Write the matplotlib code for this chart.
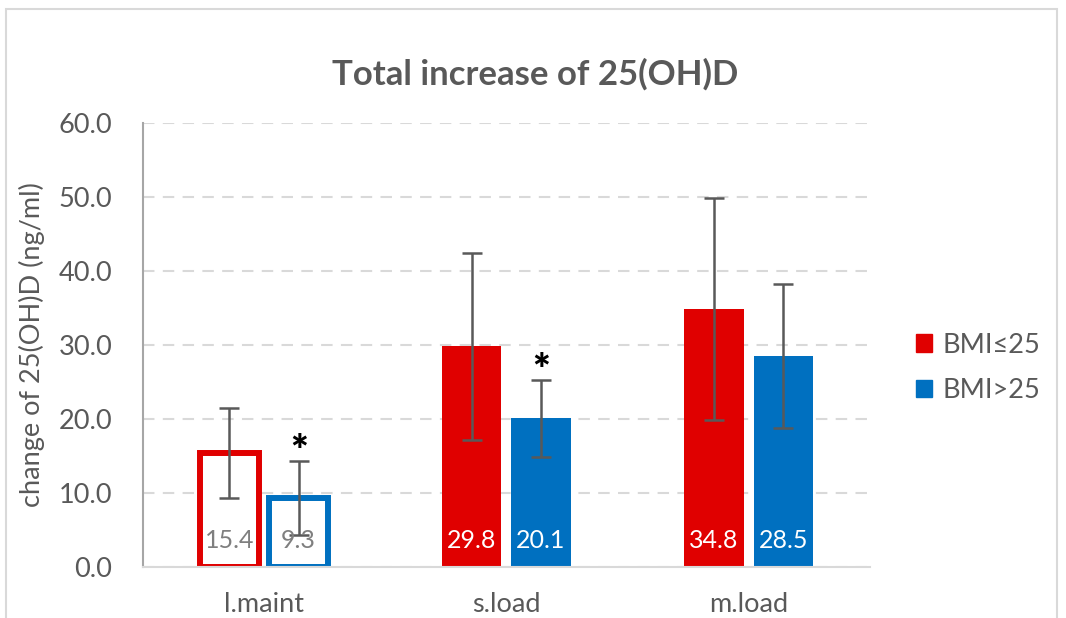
import matplotlib.pyplot as plt
import numpy as np
from matplotlib.patches import Rectangle

groups = ["l.maint", "s.load", "m.load"]
series = ["BMI≤25", "BMI>25"]
low_bmi = [15.4, 29.8, 34.8]
high_bmi = [9.3, 20.1, 28.5]
low_err = [6.1, 12.6, 15.0]
high_err = [5.0, 5.2, 9.7]
significant = [True, True, False]  # asterisk over the BMI>25 bar
hollow = [True, False, False]      # l.maint bars drawn as outlines

RED = "#e00000"
BLUE = "#0070c0"
GRAY = "#595959"
FS = 19.5

plt.rcParams["font.family"] = ["Lato", "DejaVu Sans"]

fig = plt.figure(figsize=(10.66, 6.18), dpi=100)
ax = fig.add_axes([0.134, 0.0825, 0.682, 0.7185])

# outer chart frame
fig.patches.append(Rectangle((0.006, -0.1), 0.986, 1.085, transform=fig.transFigure,
                             fill=False, edgecolor="#d9d9d9", linewidth=1.5))

x = np.arange(len(groups))
w = 0.245
off = 0.143

for vals, errs, col, dx in [(low_bmi, low_err, RED, -off), (high_bmi, high_err, BLUE, off)]:
    for i in range(len(groups)):
        if hollow[i]:
            ax.bar(x[i] + dx, vals[i], w, facecolor="white", edgecolor=col,
                   linewidth=4.3, zorder=3)
            tcol = "#7f7f7f"
        else:
            ax.bar(x[i] + dx, vals[i], w, color=col, zorder=3)
            tcol = "white"
        ax.annotate(f"{vals[i]:.1f}", (x[i] + dx, 0), xytext=(0, 19),
                    textcoords="offset points", ha="center", va="center",
                    color=tcol, fontsize=18, zorder=6)
    ax.errorbar(x + dx, vals, yerr=errs, fmt="none", ecolor=GRAY, elinewidth=1.8,
                capsize=7, capthick=1.8, zorder=5)

for i in range(len(groups)):
    if significant[i]:
        ax.annotate("*", (x[i] + off, high_bmi[i] + high_err[i]), xytext=(0, -8),
                    textcoords="offset points", ha="center", va="bottom",
                    fontsize=30, fontweight="heavy", color="black", zorder=6)

# legend squares
handles = [Rectangle((0, 0), 1, 1, color=RED), Rectangle((0, 0), 1, 1, color=BLUE)]
fig.legend(handles, series, loc="center left", bbox_to_anchor=(0.836, 0.405),
           frameon=False, fontsize=FS, labelcolor=GRAY, handlelength=0.6,
           handleheight=0.6, handletextpad=0.4, labelspacing=0.75)

ax.set_xlim(-0.5, 2.5)
ax.set_ylim(0, 60)
ax.set_yticks(np.arange(0, 61, 10))
ax.set_yticklabels([f"{v:.1f}" for v in np.arange(0, 61, 10)])
ax.set_xticks(x)
ax.set_xticklabels(groups)
ax.tick_params(axis="both", colors=GRAY, labelsize=FS, length=0)
ax.tick_params(axis="y", pad=22)
ax.tick_params(axis="x", pad=18)
ax.yaxis.grid(True, color="#d9d9d9", linestyle=(0, (5.5, 4)), linewidth=1.5, zorder=0)
ax.set_axisbelow(True)

for s in ["top", "right"]:
    ax.spines[s].set_visible(False)
ax.spines["left"].set_color("#a6a6a6")
ax.spines["left"].set_linewidth(1.5)
ax.spines["bottom"].set_color("#d9d9d9")
ax.spines["bottom"].set_linewidth(1.5)
ax.spines["bottom"].set_zorder(4)

ax.set_ylabel("change of 25(OH)D (ng/ml)", color=GRAY, fontsize=FS, labelpad=10)
fig.text(0.502, 0.88, "Total increase of 25(OH)D", ha="center", va="center",
         fontsize=25, fontweight="bold", color=GRAY)

fig.savefig("out.png", dpi=100)
